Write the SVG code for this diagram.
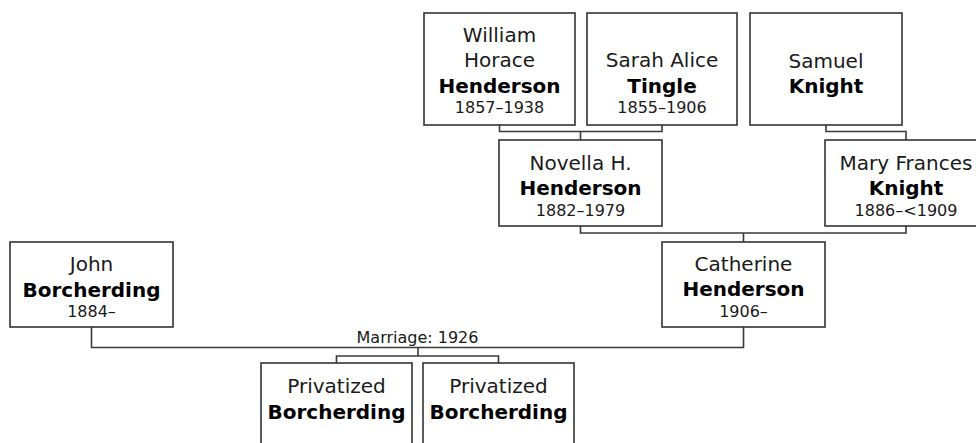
<svg xmlns="http://www.w3.org/2000/svg" width="976" height="443" viewBox="0 0 976 443">
<style>
  .box { fill: #ffffff; stroke: #333333; stroke-width: 1.6; }
  .con { fill: none; stroke: #3a3a3a; stroke-width: 1.6; }
  text { font-family: "DejaVu Sans", Verdana, sans-serif; fill: #000000; text-anchor: middle; }
  .n { font-size: 20px; fill: #1a1a1a; }
  .b { font-size: 20px; font-weight: bold; }
  .d { font-size: 16px; fill: #1a1a1a; }
  .lbl { font-size: 16px; fill: #1a1a1a; }
</style>
<rect width="976" height="443" fill="#ffffff"/>
<g id="connectors">
  <path class="con" d="M499.5,125 V131.5 H662 V125 M580.5,131.5 V140"/>
  <path class="con" d="M826,125 V131.5 H906 V140"/>
  <path class="con" d="M580.5,226 V233 H906 V226 M743.5,233 V242"/>
  <path class="con" d="M91.5,327 V347.5 H743.5 V327 M418,347.5 V356 M336.5,363 V356 H498.5 V363"/>
  <text class="lbl" x="417.5" y="343">Marriage: 1926</text>
</g>
<g id="william">
  <rect class="box" x="424" y="13" width="151" height="112"/>
  <text class="n" x="499.5" y="42">William</text>
  <text class="n" x="499.5" y="67">Horace</text>
  <text class="b" x="499.5" y="93">Henderson</text>
  <text class="d" x="499.5" y="113">1857–1938</text>
</g>
<g id="sarah">
  <rect class="box" x="587" y="13" width="150" height="112"/>
  <text class="n" x="662" y="67">Sarah Alice</text>
  <text class="b" x="662" y="93">Tingle</text>
  <text class="d" x="662" y="113">1855–1906</text>
</g>
<g id="samuel">
  <rect class="box" x="750" y="13" width="152" height="112"/>
  <text class="n" x="826" y="68">Samuel</text>
  <text class="b" x="826" y="93">Knight</text>
</g>
<g id="novella">
  <rect class="box" x="499" y="140" width="163" height="86"/>
  <text class="n" x="580.5" y="170">Novella H.</text>
  <text class="b" x="580.5" y="195">Henderson</text>
  <text class="d" x="580.5" y="216">1882–1979</text>
</g>
<g id="mary">
  <rect class="box" x="825" y="140" width="163" height="86"/>
  <text class="n" x="906" y="170">Mary Frances</text>
  <text class="b" x="906" y="195">Knight</text>
  <text class="d" x="906" y="216">1886–&lt;1909</text>
</g>
<g id="catherine">
  <rect class="box" x="662" y="242" width="163" height="85"/>
  <text class="n" x="743.5" y="271">Catherine</text>
  <text class="b" x="743.5" y="296">Henderson</text>
  <text class="d" x="743.5" y="317">1906–</text>
</g>
<g id="john">
  <rect class="box" x="10" y="242" width="163" height="85"/>
  <text class="n" x="91.5" y="271">John</text>
  <text class="b" x="91.5" y="297">Borcherding</text>
  <text class="d" x="91.5" y="317">1884–</text>
</g>
<g id="child1">
  <rect class="box" x="261" y="363" width="151" height="100"/>
  <text class="n" x="336.5" y="393">Privatized</text>
  <text class="b" x="336.5" y="419">Borcherding</text>
</g>
<g id="child2">
  <rect class="box" x="423" y="363" width="151" height="100"/>
  <text class="n" x="498.5" y="393">Privatized</text>
  <text class="b" x="498.5" y="419">Borcherding</text>
</g>
</svg>
